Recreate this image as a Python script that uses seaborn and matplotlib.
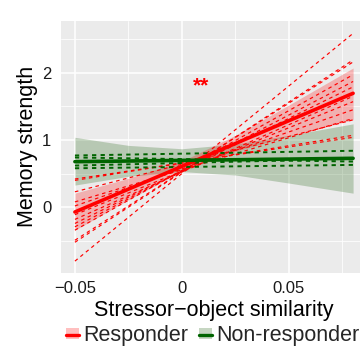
import numpy as np
import pandas as pd
import matplotlib
matplotlib.use("Agg")
import matplotlib.pyplot as plt
import seaborn as sns
from matplotlib.patches import Patch
from matplotlib.lines import Line2D

# ---------------- data ----------------
x_ends = [-0.05, 0.08]
groups = ["Responder", "Non-responder"]

# individual (dashed) fits: value at x=-0.05 and at x=0.08
resp_left = [-0.80, -0.52, -0.49, -0.34, -0.29, -0.24, -0.18, -0.11, 0.02, 0.08, 0.23, 0.40, 0.42]
resp_right = [2.585, 2.19, 2.16, 1.97, 1.87, 1.79, 1.65, 1.57, 1.45, 1.32, 1.30, 1.07, 1.04]
nonr_left = [0.77, 0.74, 0.58, 0.62]
nonr_right = [0.84, 0.68, 0.63, 0.72]

# group fits
resp_fit = [-0.07, 1.694]
nonr_fit = [0.678, 0.728]

# confidence ribbons
rib_x = [-0.05, -0.025, 0.0, 0.025, 0.05, 0.08]
resp_lo = [-0.34, 0.11, 0.535, 0.83, 1.06, 1.30]
resp_hi = [0.21, 0.43, 0.685, 1.07, 1.52, 2.07]
nonr_lo = [0.33, 0.46, 0.53, 0.48, 0.36, 0.21]
nonr_hi = [1.04, 0.92, 0.87, 0.94, 1.07, 1.24]

x_ticks = [-0.05, 0, 0.05]
x_ticklabels = ["\u22120.05", "0", "0.05"]
y_ticks = [0, 1, 2]
y_ticklabels = ["0", "1", "2"]

colors = {"Responder": "#FF0000", "Non-responder": "#006400"}
rib_colors = {"Responder": "#FF0000", "Non-responder": "#2E6B1F"}

# ---------------- build tables ----------------
rows = []
for i, (l, r) in enumerate(zip(resp_left, resp_right)):
    rows += [dict(group="Responder", unit=f"r{i}", x=x_ends[0], y=l),
             dict(group="Responder", unit=f"r{i}", x=x_ends[1], y=r)]
for i, (l, r) in enumerate(zip(nonr_left, nonr_right)):
    rows += [dict(group="Non-responder", unit=f"n{i}", x=x_ends[0], y=l),
             dict(group="Non-responder", unit=f"n{i}", x=x_ends[1], y=r)]
ind = pd.DataFrame(rows)

fit = pd.DataFrame(dict(
    group=["Responder"] * 2 + ["Non-responder"] * 2,
    x=x_ends * 2,
    y=resp_fit + nonr_fit))

# ---------------- figure ----------------
sns.set_theme(style="darkgrid")
plt.rcParams["font.family"] = ["Liberation Sans", "DejaVu Sans"]

fig = plt.figure(figsize=(3.6, 3.46), dpi=100)
W, H = 360, 346
left_px, right_px, top_px, bot_px = 61, 367, 20.7, 272.7
ax = fig.add_axes([left_px / W, 1 - bot_px / H, (right_px - left_px) / W, (bot_px - top_px) / H])
ax.set_facecolor("#EBEBEB")

# ribbons
ax.fill_between(rib_x, nonr_lo, nonr_hi, color=rib_colors["Non-responder"], alpha=0.27, linewidth=0, zorder=1)
ax.fill_between(rib_x, resp_lo, resp_hi, color=rib_colors["Responder"], alpha=0.25, linewidth=0, zorder=1)

# individual dashed fits
sub = ind[ind.group == "Responder"]
sns.lineplot(data=sub, x="x", y="y", units="unit", estimator=None, color=colors["Responder"],
             linewidth=0.85, dashes=False, ax=ax, legend=False, zorder=3)
for ln in ax.lines:
    ln.set_dashes((3, 3))
n_before = len(ax.lines)
sub = ind[ind.group == "Non-responder"]
sns.lineplot(data=sub, x="x", y="y", units="unit", estimator=None, color=colors["Non-responder"],
             linewidth=1.4, dashes=False, ax=ax, legend=False, zorder=3)
for ln in ax.lines[n_before:]:
    ln.set_dashes((2.2, 2.2))

# group fits
sns.lineplot(data=fit, x="x", y="y", hue="group", palette=colors, linewidth=2.6,
             ax=ax, legend=False, zorder=4)

ax.text(0.0088, 1.80, "**", color="#FF0000", fontsize=15, fontweight="bold",
        ha="center", va="center", zorder=5)

ax.set_xlim(-0.0565, 0.0865)
ax.set_ylim(-0.972, 2.773)
ax.set_xticks(x_ticks)
ax.set_xticklabels(x_ticklabels)
ax.set_yticks(y_ticks)
ax.set_yticklabels(y_ticklabels)
ax.set_xticks([-0.025, 0.025, 0.075], minor=True)
ax.set_yticks([-0.5, 0.5, 1.5, 2.5], minor=True)
ax.grid(which="major", color="white", linewidth=1.1)
ax.grid(which="minor", color="white", linewidth=0.55)
ax.tick_params(which="both", length=0, labelsize=12, labelcolor="#1A1A1A")
ax.tick_params(axis="x", pad=6)
ax.tick_params(axis="y", pad=7)
for s in ax.spines.values():
    s.set_visible(False)

ax.set_xlabel("Stressor\u2212object similarity", fontsize=15.5, color="black", labelpad=3)
ax.set_ylabel("Memory strength", fontsize=15.5, color="black", labelpad=3)

handles = [
    (Patch(facecolor=rib_colors["Responder"], alpha=0.25, linewidth=0),
     Line2D([], [], color=colors["Responder"], linewidth=2.4)),
    (Patch(facecolor=rib_colors["Non-responder"], alpha=0.27, linewidth=0),
     Line2D([], [], color=colors["Non-responder"], linewidth=2.4)),
]
fig.legend(handles, groups, loc="center left", bbox_to_anchor=(66 / W, 1 - 336 / H), ncol=2,
           frameon=False, fontsize=15.5, handlelength=0.6, handleheight=0.4, handletextpad=0.2,
           columnspacing=0.5, borderpad=0, borderaxespad=0)

fig.savefig("out.png", dpi=100)
